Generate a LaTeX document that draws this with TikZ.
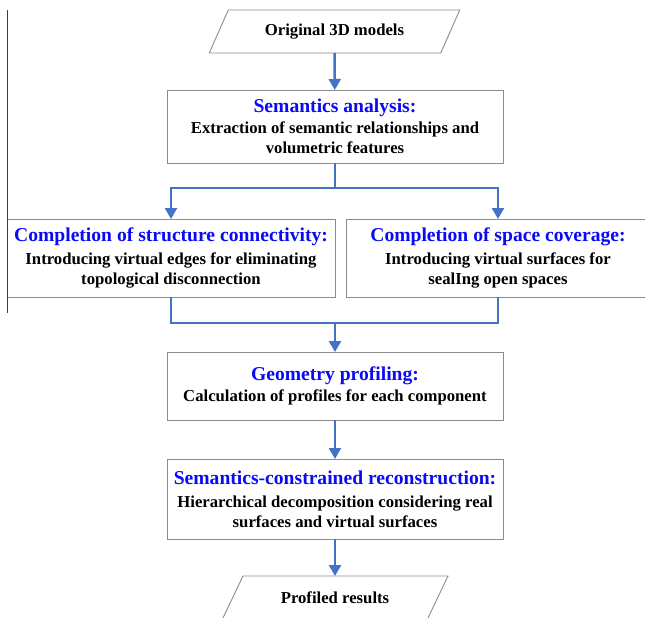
\documentclass[tikz,border=0pt]{standalone}
\usepackage{fontspec}
\setmainfont{Liberation Serif}
\usetikzlibrary{arrows.meta}
\definecolor{flowblue}{RGB}{68,114,196}
\definecolor{boxgray}{RGB}{140,140,140}
\definecolor{titleblue}{RGB}{10,10,245}
\newcommand{\steptitle}[1]{{\color{titleblue}\fontsize{19.6}{22}\selectfont #1}}
\tikzset{
  stepbox/.style={draw=boxgray, line width=0.9pt, rectangle, align=center,
    font=\bfseries\fontsize{16.7}{20}\selectfont, inner sep=0pt, outer sep=0pt},
  iobox/.style={rectangle, align=center,
    font=\bfseries\fontsize{16.7}{20}\selectfont, inner sep=0pt, outer sep=0pt},
  ioframe/.style={draw=boxgray, line width=0.9pt, line join=miter},
  flow/.style={draw=flowblue, line width=2.5pt, -{Triangle[width=12pt,length=11pt]}},
  flowline/.style={draw=flowblue, line width=2.5pt}
}
\begin{document}
\begin{tikzpicture}[x=1pt,y=-1pt]
\useasboundingbox (0,0) rectangle (645,618);
\clip (0,0) rectangle (645,618);

\node[iobox, minimum width=231.5pt, minimum height=43pt] (orig) at (334.5,31.5) {Original 3D models};
\node[stepbox, minimum width=336pt, minimum height=73pt] (sem) at (335,126.5)
  {\steptitle{Semantics analysis:}\\[1pt] Extraction of semantic relationships and\\ volumetric features};
\node[stepbox, minimum width=328pt, minimum height=78pt] (conn) at (171,258)
  {\steptitle{Completion of structure connectivity:}\\[2.5pt] Introducing virtual edges for eliminating\\ topological disconnection};
\node[stepbox, minimum width=303pt, minimum height=78pt] (cover) at (498,258)
  {\steptitle{Completion of space coverage:}\\[2.5pt] Introducing virtual surfaces for\\ sealIng open spaces};
\node[stepbox, minimum width=336pt, minimum height=68pt] (geo) at (335,386)
  {\steptitle{Geometry profiling:}\\[1.5pt] Calculation of profiles for each component};
\node[stepbox, minimum width=336pt, minimum height=80pt] (recon) at (335,499)
  {\steptitle{Semantics-constrained reconstruction:}\\[3pt] Hierarchical decomposition considering real\\ surfaces and virtual surfaces};
\node[iobox, minimum width=205pt, minimum height=44pt] (res) at (335,598) {Profiled results};

\draw[ioframe] ([xshift=-9.5pt]orig.south west) -- ([xshift=9.5pt]orig.north west)
  -- ([xshift=9.5pt]orig.north east) -- ([xshift=-9.5pt]orig.south east) -- cycle;
\draw[ioframe] ([xshift=-10.5pt]res.south west) -- ([xshift=10.5pt]res.north west)
  -- ([xshift=10.5pt]res.north east) -- ([xshift=-10.5pt]res.south east) -- cycle;

\coordinate (split) at (335,188);
\coordinate (join) at (335,323);

\draw[line width=1pt, black!75] (7,10) -- (7,313);

\path
(orig) edge[flow] (sem)
(sem.south) edge[flowline] (split)
(geo) edge[flow] (recon)
(recon) edge[flow] (res)
(join) edge[flow] (geo.north);
\draw[flow] (split) -| (conn.north);
\draw[flow] (split) -| (cover.north);
\draw[flowline] (conn.south) |- (join) -| (cover.south);
\end{tikzpicture}
\end{document}
